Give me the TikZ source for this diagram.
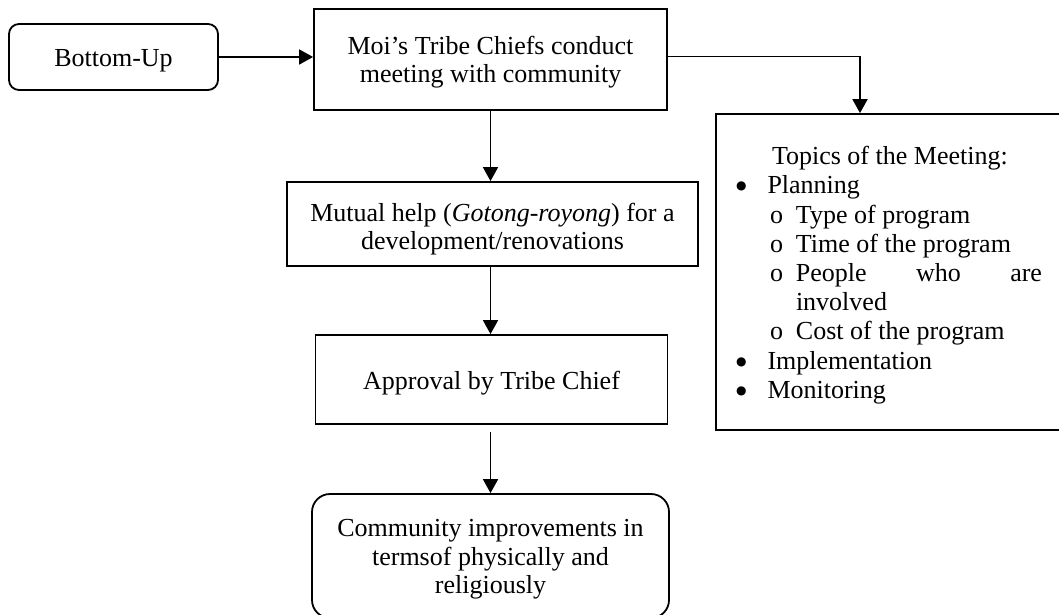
\documentclass[tikz,border=0pt]{standalone}
\usepackage{fontspec}
\setmainfont{Liberation Serif}
\newfontfamily\symfont{DejaVu Sans}
\usetikzlibrary{arrows.meta,positioning,calc}

\newcommand{\hi}[1]{\rule{0pt}{#1pt}}
\newcommand{\lo}{\rule[-6pt]{0pt}{6pt}}
\newcommand{\bigdot}{\raisebox{4pt}{\symfont\fontsize{12pt}{12pt}\selectfont ●}}
\newcommand{\topbul}[1]{\makebox[31.5pt][l]{\bigdot}#1}
\newcommand{\subbul}[1]{\hspace*{34pt}\makebox[26pt][l]{o}#1}

\begin{document}
\begin{tikzpicture}[x=1pt,y=-1pt,
	every node/.style={font=\fontsize{26pt}{28.5pt}\selectfont},
	drop/.style={execute at begin node={\rule{0pt}{#1}}},
	box/.style={draw, line width=1.8pt, align=center, inner sep=0pt,
		drop=23pt, execute at end node=\lo},
	roundbox/.style={box, rounded corners=10pt},
	link/.style={line width=1.8pt, -{Triangle[length=14pt,width=15pt]}}]
	\useasboundingbox (0,0) rectangle (1059,615);
	% Define nodes
	\node[roundbox, drop=25pt, minimum width=209pt, minimum height=66pt] (bottomup) at (113.5,57) {Bottom-Up};
	\node[box, minimum width=353pt, minimum height=101pt] (meeting) at (490.5,59.5)
		{\hi{24}Moi’s Tribe Chiefs conduct\\ meeting with community};
	\node[box, minimum width=411pt, minimum height=84pt] (mutual) at (492.5,224)
		{\hi{29}Mutual help (\textit{Gotong-royong}) for a\\ development/renovations};
	\node[box, drop=25pt, minimum width=352pt, minimum height=89pt] (approval) at (491.5,379.5)
		{Approval by Tribe Chief};
	\node[roundbox, rounded corners=18pt, minimum width=357pt, minimum height=124pt] (result) at (490.5,556)
		{\hi{24}Community improvements in\\ termsof physically and\\ religiously};
	\node[box, drop=25pt, align=flush left, text width=309pt, inner xsep=20pt, minimum width=349pt, minimum height=316pt,
		font=\fontsize{26pt}{29.2pt}\selectfont] (topics) at (890.5,272) {%
		\hspace*{36pt}Topics of the Meeting:\\
		\topbul{Planning}\\
		\subbul{Type of program}\\
		\subbul{Time of the program}\\
		\subbul{\makebox[246pt][l]{People\hfill who\hfill are}}\\
		\hspace*{60pt}involved\\
		\subbul{Cost of the program}\\
		\topbul{Implementation}\\
		\topbul{Monitoring}};
	\coordinate (tin) at ([xshift=-30.5pt]topics.north);

	% Edges
	\draw[link] (bottomup.east) -- (bottomup.east -| meeting.west);
	\draw[link] ([yshift=3pt]meeting.east) -| (tin);
	\draw[link] (meeting.south) -- (meeting.south |- mutual.north);
	\draw[link] (mutual.south -| meeting.south) -- (approval.north -| meeting.south);
	\draw[link, shorten <=7pt] (approval.south -| meeting.south) -- (result.north -| meeting.south);
\end{tikzpicture}
\end{document}
